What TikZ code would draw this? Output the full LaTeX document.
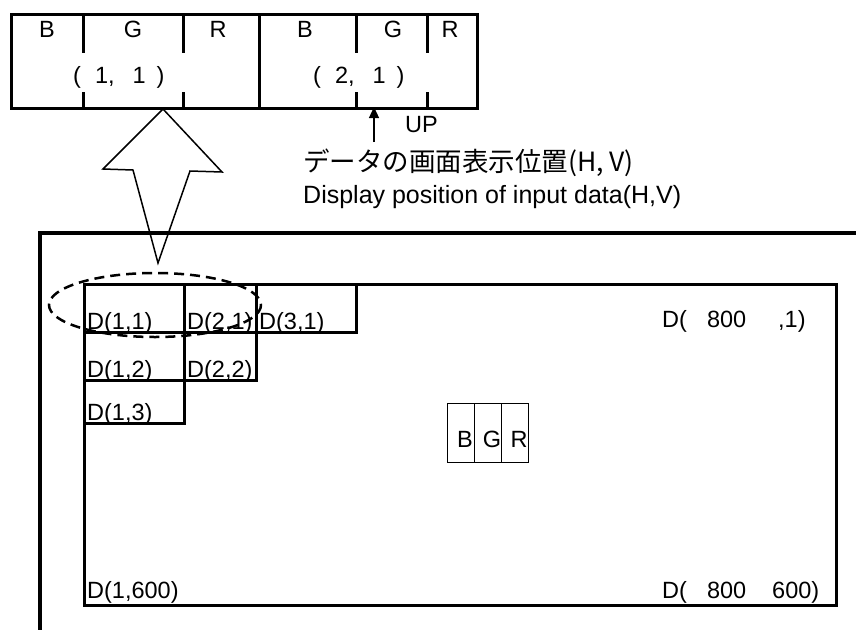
\documentclass[tikz,border=0pt]{standalone}
\usepackage{fontspec}
\setmainfont{Liberation Sans}
\newfontfamily\jpfont{Noto Sans CJK JP}
\usetikzlibrary{arrows.meta}

\begin{document}
\begin{tikzpicture}[x=1pt, y=-1pt, txt/.style={font=\fontsize{23.5}{26}\selectfont, inner sep=0pt}, dlabel/.style={txt, anchor=base west}, cell/.style={draw, line width=3pt, anchor=north west, inner sep=0pt}, subpix/.style={draw, line width=1pt, anchor=north west, inner sep=0pt, minimum width=27, minimum height=59}]
\useasboundingbox (0,0) rectangle (856,630);
\node[cell, minimum width=466, minimum height=94] (pixels) at (10,13) {};
\draw[line width=3pt] (pixels.north) ++(15,0) -- ++(0,94);
\foreach \x in {83,183,356,427} {
    \draw[line width=3pt] (\x,13) -- (\x,53);
    \draw[line width=3pt] (\x,92) -- (\x,107);
}
\foreach \x/\c in {47/B,133/G,218/R,305/B,393/G,450/R}
    \node[txt] (c\x) at (\x,29) {\c};
\node[txt, anchor=west] (px1) at (73,77) {(\hspace{14pt}1,\hspace{18pt}1\hspace{11pt})};
\node[txt, anchor=west] (px2) at (313,77) {(\hspace{14pt}2,\hspace{18pt}1\hspace{11pt})};
\coordinate (upfoot) at (374,142);
\coordinate (uptip) at (374,107);
\draw[line width=1.2pt, -{Triangle[length=11pt,width=10pt]}] (upfoot) -- (uptip);
\node[txt, anchor=west] (up) at (405,125) {UP};
\node[anchor=west, inner sep=0pt, font=\jpfont\fontsize{26.5}{30}\selectfont] (jp) at (303,163) {データの画面表示位置(H, V)};
\node[txt, anchor=west, font=\fontsize{25}{28}\selectfont] (en) at (303,197) {Display position of input data(H,V)};
\draw[line width=1.5pt, line join=miter] (163,109) -- (222,172) -- (190,171) -- (158,263) -- (133,170) -- (103,169) -- cycle;
\draw[line width=3.5pt] (856,233) -- (40,233) -- (40,630);
\node[cell, minimum width=752, minimum height=321] (screen) at (83,283) {};
\foreach \c/\r/\x/\y/\w/\h in {1/1/83/283/100/48, 2/1/183/283/72/48, 3/1/255/283/100/48, 1/2/83/331/100/48, 2/2/183/331/72/48, 1/3/83/379/100/43} {
    \node[cell, minimum width=\w, minimum height=\h] (d\c\r) at (\x,\y) {};
    \node[dlabel] (t\c\r) at ([shift={(4,-5)}]d\c\r.south west) {D(\c,\r)};
}
\node[dlabel] (dlast1) at (662,327) {D(\hspace{20pt}800\hspace{32pt},1)};
\node[dlabel] (dfirst600) at (87,598) {D(1,600)};
\node[dlabel] (dlast600) at (662,598) {D(\hspace{20pt}800\hspace{26pt}600)};
\foreach \x/\c in {447/B,474/G,501/R} {
    \node[subpix] (s\c) at (\x,403) {};
    \node[txt, anchor=base] (l\c) at ({\x+18},447) {\c};
}
\draw[line width=2.5pt, dash pattern=on 10pt off 6pt] (155,305) ellipse [x radius=106, y radius=32];
\end{tikzpicture}
\end{document}
